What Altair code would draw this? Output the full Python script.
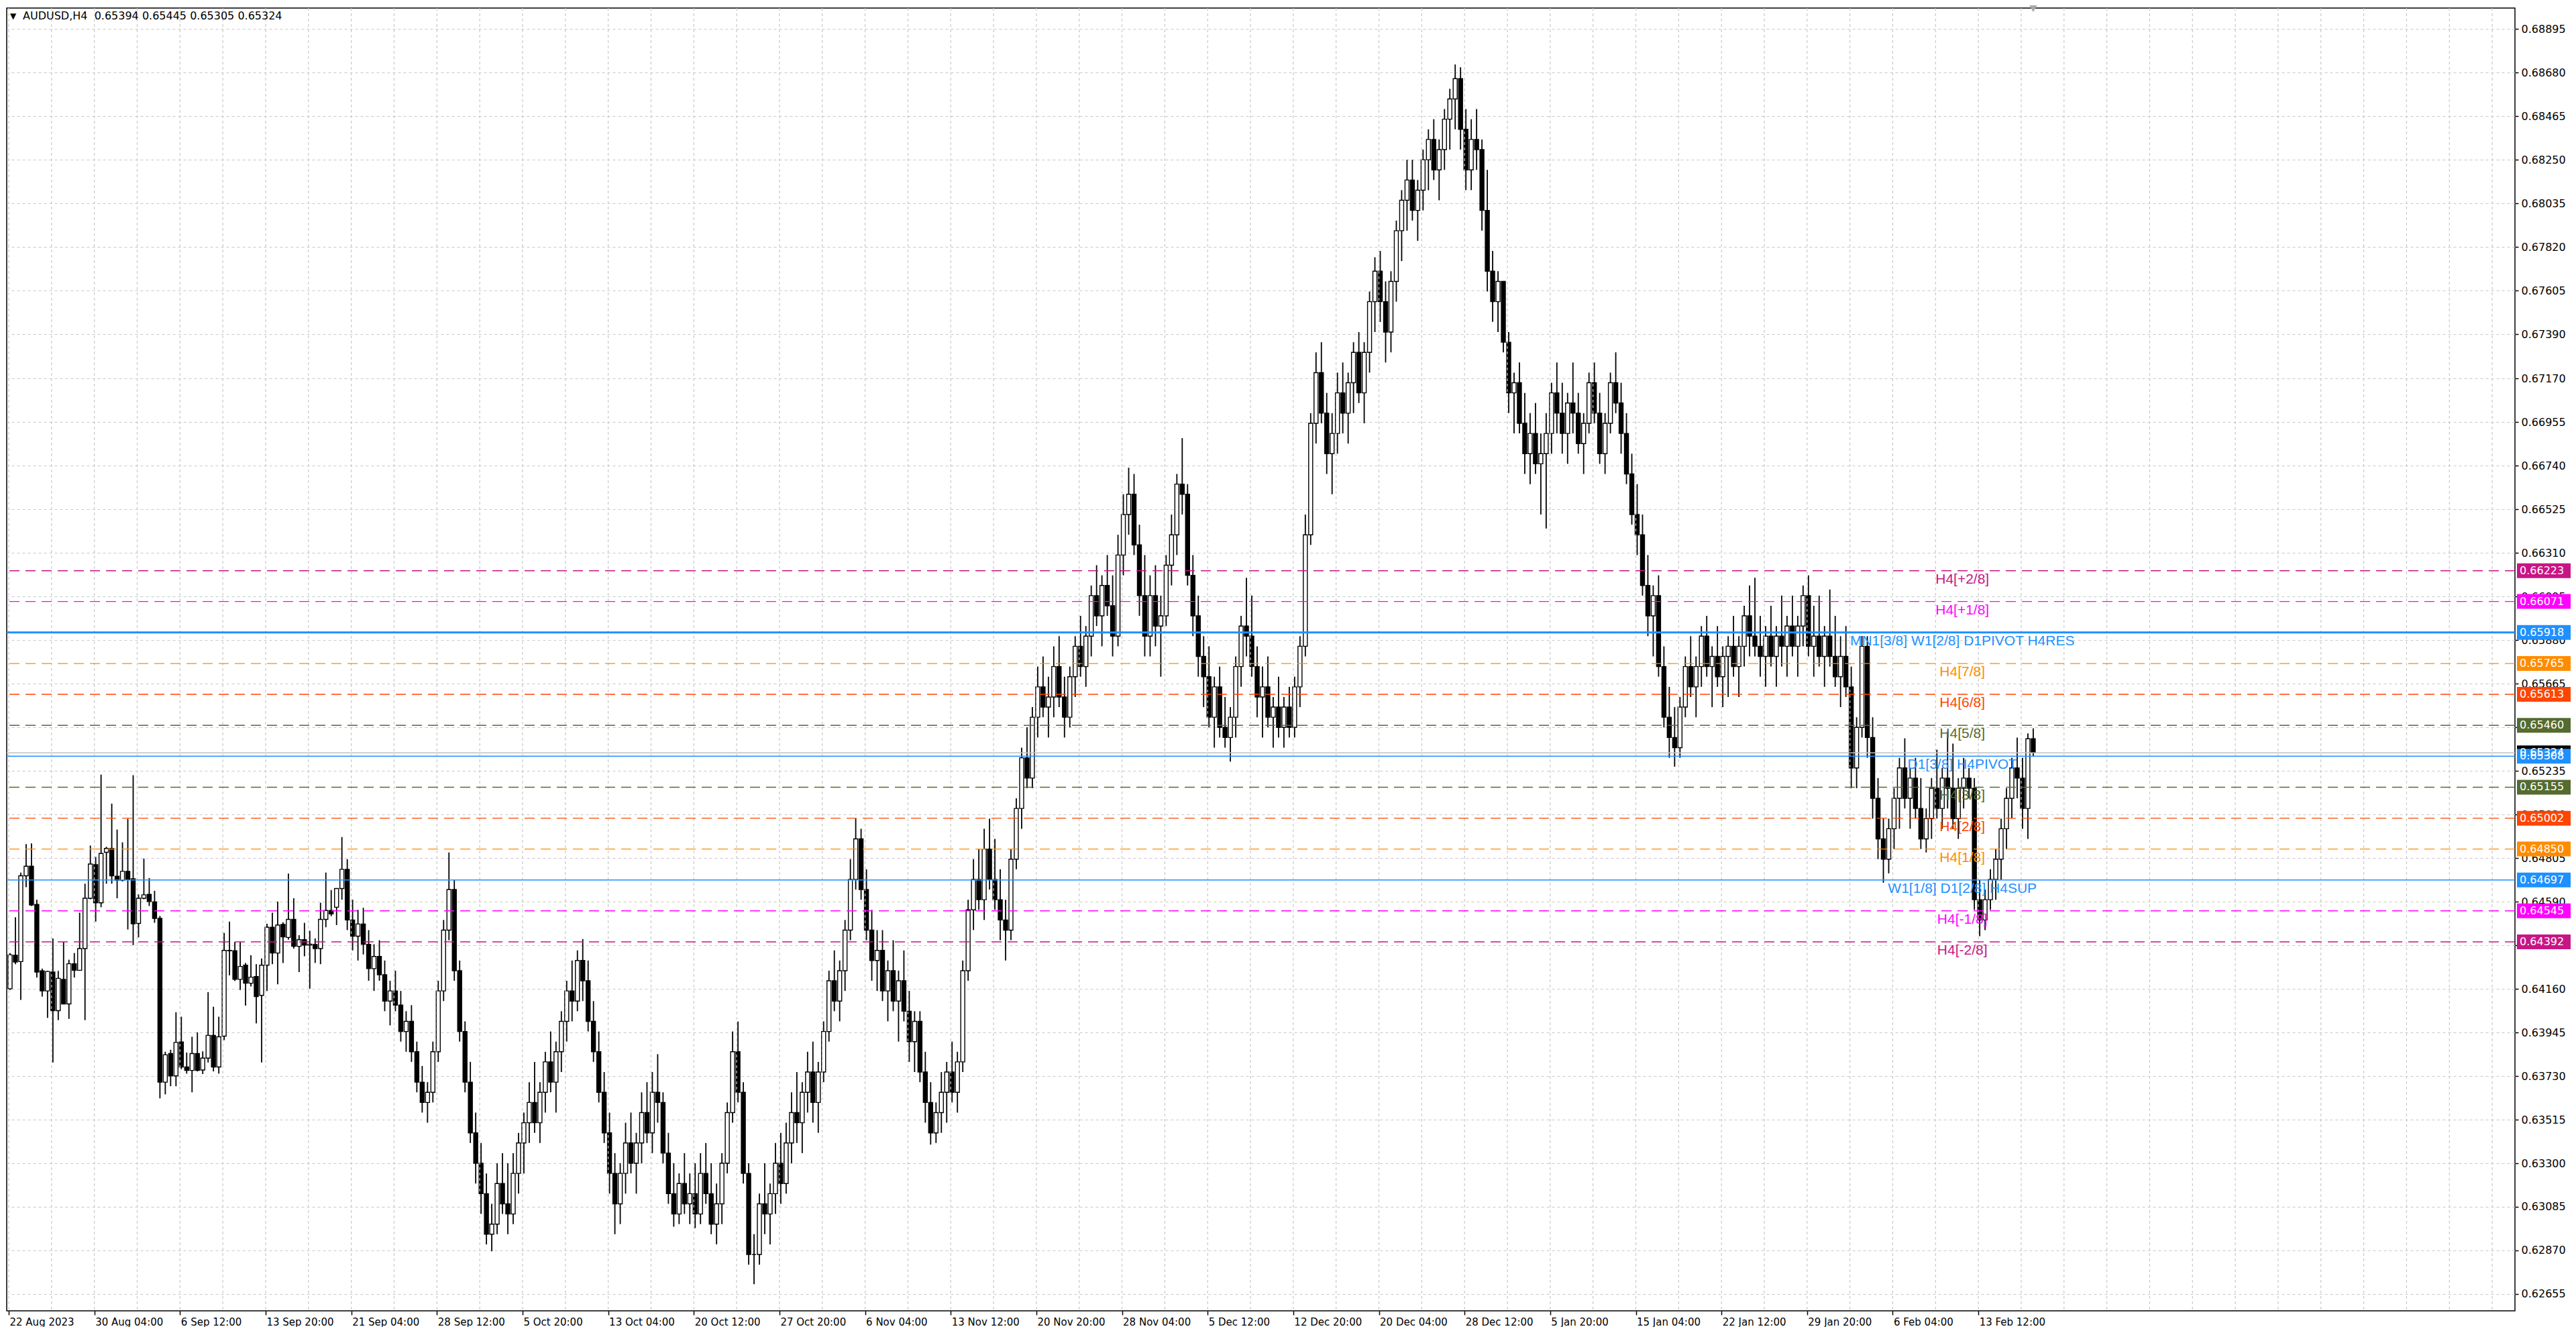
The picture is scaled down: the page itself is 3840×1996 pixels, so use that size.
import json
import altair as alt
import pandas as pd

SYMBOL = "AUDUSD"
TIMEFRAME = "H4"

# One drawn candle = two H4 bars (open, high, low, close)
OPEN = [
    0.64161, 0.64326, 0.64295, 0.64718, 0.64765, 0.64577, 0.64249, 0.64150, 0.64243, 0.64053,
    0.64207, 0.64086, 0.64284, 0.64252, 0.64359, 0.64607, 0.64773, 0.64585, 0.64834, 0.64853,
    0.64716, 0.64696, 0.64740, 0.64703, 0.64483, 0.64607, 0.64626, 0.64589, 0.64508, 0.63700,
    0.63841, 0.63731, 0.63898, 0.63775, 0.63758, 0.63841, 0.63760, 0.63819, 0.63931, 0.63775,
    0.63927, 0.64350, 0.64348, 0.64207, 0.64277, 0.64188, 0.64221, 0.64128, 0.64277, 0.64464,
    0.64337, 0.64478, 0.64414, 0.64503, 0.64370, 0.64403, 0.64376, 0.64379, 0.64359, 0.64503,
    0.64547, 0.64563,
    0.64655, 0.64750, 0.64500, 0.64420, 0.64480, 0.64380, 0.64260, 0.64320, 0.64230, 0.64100,
    0.64150, 0.64080, 0.63950, 0.64000, 0.63850, 0.63700, 0.63600, 0.63650, 0.63850, 0.64150,
    0.64450, 0.64650, 0.64250, 0.63950, 0.63700, 0.63450, 0.63300, 0.63150, 0.62950, 0.63000,
    0.63200, 0.63100, 0.63050, 0.63250, 0.63400, 0.63500, 0.63600, 0.63500, 0.63650, 0.63800,
    0.63700, 0.63850, 0.64000, 0.64150, 0.64100, 0.64300, 0.64200, 0.64000, 0.63850, 0.63650,
    0.63450, 0.63250, 0.63100, 0.63250, 0.63400, 0.63300, 0.63400, 0.63550, 0.63450, 0.63650,
    0.63600, 0.63350, 0.63150, 0.63050, 0.63200, 0.63100, 0.63150, 0.63050, 0.63250, 0.63150,
    0.63000, 0.63100, 0.63300, 0.63550, 0.63850, 0.63650, 0.63250, 0.62850, 0.62850, 0.63100,
    0.63050, 0.63150, 0.63300, 0.63200, 0.63400, 0.63550, 0.63500, 0.63650, 0.63750, 0.63600,
    0.63750, 0.63950, 0.64200, 0.64100, 0.64250, 0.64450, 0.64700, 0.64900, 0.64650, 0.64450,
    0.64300, 0.64350, 0.64150, 0.64250, 0.64100, 0.64200, 0.64050, 0.63900, 0.64000, 0.63750,
    0.63600, 0.63450, 0.63550, 0.63650, 0.63750, 0.63650, 0.63800, 0.64250, 0.64550, 0.64700,
    0.64600, 0.64850, 0.64700, 0.64600, 0.64500, 0.64450, 0.64800, 0.65050, 0.65300, 0.65200,
    0.65500, 0.65650, 0.65550, 0.65600, 0.65750, 0.65600, 0.65500, 0.65700, 0.65850, 0.65750,
    0.65900, 0.66100, 0.66000, 0.66150, 0.66050, 0.65900, 0.66300, 0.66500, 0.66600, 0.66350,
    0.66100, 0.65900, 0.66100, 0.65950, 0.66000, 0.66250, 0.66400, 0.66650, 0.66600, 0.66200,
    0.66000, 0.65800, 0.65700, 0.65500, 0.65650, 0.65450, 0.65400, 0.65500, 0.65750, 0.65950,
    0.65900, 0.65750, 0.65600, 0.65650, 0.65500, 0.65550, 0.65450, 0.65550, 0.65450, 0.65650,
    0.65850, 0.66400, 0.66950, 0.67200, 0.67000, 0.66800, 0.66900, 0.67100, 0.67000, 0.67150,
    0.67300, 0.67100, 0.67300, 0.67550, 0.67700, 0.67550, 0.67400, 0.67650, 0.67900, 0.68050,
    0.68150, 0.68000, 0.68100, 0.68250, 0.68350, 0.68200, 0.68300, 0.68450, 0.68550, 0.68650,
    0.68400, 0.68200, 0.68350, 0.68300, 0.68000, 0.67700, 0.67550, 0.67650, 0.67350, 0.67100,
    0.67150, 0.66950, 0.66800, 0.66900, 0.66750, 0.66800, 0.66900, 0.67100, 0.67000, 0.66900,
    0.67050, 0.67000, 0.66850, 0.66950, 0.67150, 0.67000, 0.66800, 0.66950, 0.67150, 0.67050,
    0.66900, 0.66700, 0.66500, 0.66400, 0.66150, 0.66000, 0.66100, 0.65750, 0.65500, 0.65400,
    0.65350, 0.65550, 0.65750, 0.65650, 0.65750, 0.65900, 0.65750, 0.65800, 0.65700, 0.65800,
    0.65850, 0.65750, 0.65850, 0.66000, 0.65900, 0.65850, 0.65800, 0.65900, 0.65800, 0.65900,
    0.65850, 0.65950, 0.65850, 0.65950, 0.66100, 0.65850, 0.65900, 0.65800, 0.65900, 0.65800,
    0.65700, 0.65800, 0.65650, 0.65250, 0.65450, 0.65850, 0.65400, 0.65100, 0.64900, 0.64800,
    0.64950, 0.65100, 0.65250, 0.65100, 0.65200, 0.65050, 0.64900, 0.65000, 0.65150, 0.65050,
    0.65200, 0.65150, 0.65000, 0.65150, 0.65200, 0.65150, 0.64600, 0.64500, 0.64600, 0.64700,
    0.64800, 0.64950, 0.65100, 0.65250, 0.65200, 0.65050, 0.65394,
]
HIGH = [
    0.64337, 0.64514, 0.64734, 0.64874, 0.64878, 0.64600, 0.64260, 0.64249, 0.64409, 0.64249,
    0.64392, 0.64304, 0.64337, 0.64536, 0.64679, 0.64867, 0.64811, 0.65217, 0.64861, 0.65074,
    0.64946, 0.64883, 0.64999, 0.65214, 0.64626, 0.64803, 0.64707, 0.64644, 0.64520, 0.63850,
    0.63860, 0.64045, 0.64023, 0.63846, 0.63924, 0.63946, 0.63852, 0.64144, 0.64072, 0.64023,
    0.64436, 0.64492, 0.64392, 0.64392, 0.64288, 0.64326, 0.64282, 0.64310, 0.64481, 0.64536,
    0.64591, 0.64489, 0.64729, 0.64607, 0.64425, 0.64486, 0.64447, 0.64409, 0.64585, 0.64734,
    0.64648, 0.64657,
    0.64909, 0.64800, 0.64600, 0.64550, 0.64560, 0.64450, 0.64380, 0.64400, 0.64300, 0.64200,
    0.64250, 0.64150, 0.64050, 0.64080, 0.63900, 0.63780, 0.63700, 0.63900, 0.64200, 0.64500,
    0.64833, 0.64700, 0.64300, 0.64000, 0.63800, 0.63550, 0.63400, 0.63250, 0.63100, 0.63300,
    0.63350, 0.63300, 0.63350, 0.63450, 0.63550, 0.63700, 0.63800, 0.63700, 0.63850, 0.63950,
    0.63900, 0.64050, 0.64200, 0.64300, 0.64350, 0.64406, 0.64300, 0.64100, 0.63950, 0.63750,
    0.63550, 0.63350, 0.63300, 0.63500, 0.63550, 0.63450, 0.63650, 0.63700, 0.63750, 0.63838,
    0.63650, 0.63450, 0.63300, 0.63250, 0.63350, 0.63250, 0.63300, 0.63350, 0.63400, 0.63300,
    0.63200, 0.63350, 0.63600, 0.63950, 0.63999, 0.63700, 0.63300, 0.62950, 0.63150, 0.63300,
    0.63200, 0.63400, 0.63450, 0.63500, 0.63650, 0.63750, 0.63700, 0.63850, 0.63900, 0.63800,
    0.64000, 0.64250, 0.64350, 0.64300, 0.64500, 0.64800, 0.65000, 0.64950, 0.64750, 0.64550,
    0.64450, 0.64450, 0.64300, 0.64400, 0.64250, 0.64350, 0.64150, 0.64050, 0.64050, 0.63850,
    0.63700, 0.63600, 0.63750, 0.63800, 0.63900, 0.63850, 0.64300, 0.64600, 0.64800, 0.64850,
    0.64950, 0.65000, 0.64900, 0.64750, 0.64600, 0.64850, 0.65100, 0.65350, 0.65450, 0.65550,
    0.65750, 0.65800, 0.65700, 0.65850, 0.65900, 0.65700, 0.65750, 0.65900, 0.66000, 0.65950,
    0.66150, 0.66250, 0.66200, 0.66300, 0.66200, 0.66400, 0.66600, 0.66731, 0.66700, 0.66450,
    0.66300, 0.66200, 0.66250, 0.66100, 0.66300, 0.66500, 0.66700, 0.66877, 0.66650, 0.66300,
    0.66100, 0.65900, 0.65850, 0.65700, 0.65750, 0.65600, 0.65550, 0.65800, 0.66000, 0.66188,
    0.66100, 0.65850, 0.65750, 0.65800, 0.65600, 0.65700, 0.65600, 0.65650, 0.65700, 0.65900,
    0.66500, 0.67000, 0.67300, 0.67350, 0.67100, 0.67000, 0.67200, 0.67250, 0.67200, 0.67350,
    0.67400, 0.67350, 0.67600, 0.67769, 0.67800, 0.67650, 0.67700, 0.67950, 0.68100, 0.68250,
    0.68250, 0.68150, 0.68300, 0.68400, 0.68450, 0.68350, 0.68500, 0.68600, 0.68720, 0.68706,
    0.68500, 0.68450, 0.68500, 0.68350, 0.68200, 0.67800, 0.67700, 0.67650, 0.67400, 0.67200,
    0.67250, 0.67100, 0.67000, 0.67050, 0.66900, 0.67000, 0.67150, 0.67250, 0.67150, 0.67100,
    0.67250, 0.67100, 0.67000, 0.67200, 0.67250, 0.67100, 0.67000, 0.67200, 0.67300, 0.67150,
    0.67000, 0.66800, 0.66650, 0.66500, 0.66300, 0.66150, 0.66200, 0.65850, 0.65650, 0.65550,
    0.65600, 0.65800, 0.65900, 0.65800, 0.65950, 0.66000, 0.65850, 0.65950, 0.65850, 0.65900,
    0.66000, 0.65900, 0.66050, 0.66150, 0.66188, 0.66000, 0.65950, 0.66050, 0.65950, 0.66100,
    0.66000, 0.66100, 0.66000, 0.66150, 0.66200, 0.66050, 0.66100, 0.65950, 0.66130, 0.66000,
    0.65900, 0.65950, 0.65750, 0.65500, 0.65901, 0.65900, 0.65500, 0.65200, 0.65000, 0.65000,
    0.65150, 0.65300, 0.65396, 0.65250, 0.65300, 0.65200, 0.65050, 0.65200, 0.65340, 0.65250,
    0.65429, 0.65370, 0.65200, 0.65300, 0.65250, 0.65200, 0.64700, 0.64650, 0.64750, 0.64850,
    0.65000, 0.65150, 0.65300, 0.65400, 0.65300, 0.65420, 0.65445,
]
LOW = [
    0.64155, 0.64282, 0.64106, 0.64662, 0.64569, 0.64216, 0.64122, 0.64017, 0.63797, 0.64006,
    0.64084, 0.64012, 0.64216, 0.64249, 0.64006, 0.64602, 0.64492, 0.64563, 0.64679, 0.64679,
    0.64607, 0.64690, 0.64453, 0.64376, 0.64414, 0.64602, 0.64569, 0.64486, 0.63620, 0.63640,
    0.63680, 0.63680, 0.63764, 0.63742, 0.63650, 0.63753, 0.63740, 0.63797, 0.63753, 0.63742,
    0.63907, 0.64227, 0.64199, 0.64155, 0.64078, 0.64172, 0.63990, 0.63797, 0.64150, 0.64282,
    0.64183, 0.64288, 0.64403, 0.64359, 0.64243, 0.64321, 0.64161, 0.64288, 0.64282, 0.64464,
    0.64519, 0.64475,
    0.64600, 0.64450, 0.64350, 0.64300, 0.64330, 0.64200, 0.64150, 0.64200, 0.64050, 0.63980,
    0.64050, 0.63900, 0.63850, 0.63800, 0.63650, 0.63550, 0.63500, 0.63600, 0.63800, 0.64100,
    0.64400, 0.64200, 0.63900, 0.63650, 0.63400, 0.63200, 0.63050, 0.62900, 0.62866, 0.62950,
    0.63050, 0.62950, 0.63000, 0.63150, 0.63250, 0.63400, 0.63450, 0.63400, 0.63550, 0.63650,
    0.63550, 0.63750, 0.63900, 0.64000, 0.64050, 0.64100, 0.63950, 0.63800, 0.63600, 0.63400,
    0.63150, 0.62950, 0.63000, 0.63150, 0.63250, 0.63150, 0.63300, 0.63400, 0.63350, 0.63500,
    0.63300, 0.63100, 0.62987, 0.63000, 0.63050, 0.63000, 0.62980, 0.63000, 0.63100, 0.62950,
    0.62900, 0.63000, 0.63250, 0.63500, 0.63600, 0.63200, 0.62800, 0.62704, 0.62800, 0.62950,
    0.62900, 0.63050, 0.63100, 0.63150, 0.63300, 0.63400, 0.63350, 0.63550, 0.63500, 0.63450,
    0.63700, 0.63900, 0.64050, 0.64000, 0.64150, 0.64400, 0.64650, 0.64600, 0.64400, 0.64200,
    0.64150, 0.64100, 0.64000, 0.64050, 0.63900, 0.64000, 0.63800, 0.63750, 0.63700, 0.63500,
    0.63392, 0.63400, 0.63450, 0.63500, 0.63600, 0.63550, 0.63750, 0.64200, 0.64450, 0.64550,
    0.64500, 0.64650, 0.64550, 0.64400, 0.64300, 0.64400, 0.64750, 0.64950, 0.65150, 0.65150,
    0.65400, 0.65500, 0.65400, 0.65500, 0.65550, 0.65400, 0.65450, 0.65600, 0.65700, 0.65650,
    0.65800, 0.65950, 0.65850, 0.66000, 0.65800, 0.65850, 0.66200, 0.66400, 0.66300, 0.66000,
    0.65800, 0.65800, 0.65850, 0.65700, 0.65950, 0.66150, 0.66300, 0.66500, 0.66150, 0.65900,
    0.65700, 0.65550, 0.65450, 0.65350, 0.65400, 0.65350, 0.65281, 0.65400, 0.65650, 0.65800,
    0.65700, 0.65500, 0.65400, 0.65450, 0.65350, 0.65400, 0.65350, 0.65400, 0.65400, 0.65550,
    0.65800, 0.66350, 0.66850, 0.66950, 0.66700, 0.66600, 0.66800, 0.66900, 0.66850, 0.67000,
    0.67050, 0.66950, 0.67200, 0.67400, 0.67450, 0.67250, 0.67300, 0.67550, 0.67750, 0.67900,
    0.67950, 0.67850, 0.68000, 0.68100, 0.68150, 0.68050, 0.68200, 0.68300, 0.68400, 0.68300,
    0.68100, 0.68100, 0.68200, 0.67900, 0.67600, 0.67450, 0.67400, 0.67300, 0.67000, 0.66900,
    0.66900, 0.66700, 0.66650, 0.66700, 0.66500, 0.66431, 0.66800, 0.66900, 0.66800, 0.66750,
    0.66900, 0.66800, 0.66700, 0.66900, 0.66950, 0.66750, 0.66700, 0.66900, 0.67000, 0.66800,
    0.66650, 0.66450, 0.66300, 0.66100, 0.65900, 0.65800, 0.65700, 0.65450, 0.65300, 0.65256,
    0.65300, 0.65500, 0.65600, 0.65500, 0.65650, 0.65700, 0.65550, 0.65650, 0.65550, 0.65600,
    0.65700, 0.65600, 0.65750, 0.65800, 0.65800, 0.65700, 0.65650, 0.65750, 0.65650, 0.65750,
    0.65700, 0.65800, 0.65700, 0.65850, 0.65800, 0.65700, 0.65750, 0.65650, 0.65750, 0.65650,
    0.65550, 0.65600, 0.65150, 0.65150, 0.65400, 0.65300, 0.65000, 0.64800, 0.64684, 0.64730,
    0.64850, 0.64950, 0.65050, 0.64950, 0.65000, 0.64850, 0.64833, 0.64900, 0.65000, 0.64950,
    0.65050, 0.64950, 0.64900, 0.65050, 0.65100, 0.64550, 0.64420, 0.64450, 0.64550, 0.64600,
    0.64700, 0.64850, 0.65000, 0.65100, 0.64950, 0.64900, 0.65305,
]
CLOSE = [
    0.64328, 0.64293, 0.64718, 0.64765, 0.64574, 0.64243, 0.64150, 0.64246, 0.64053, 0.64212,
    0.64086, 0.64284, 0.64252, 0.64359, 0.64607, 0.64776, 0.64585, 0.64828, 0.64853, 0.64718,
    0.64696, 0.64740, 0.64701, 0.64481, 0.64607, 0.64624, 0.64591, 0.64508, 0.63700, 0.63835,
    0.63731, 0.63896, 0.63775, 0.63758, 0.63841, 0.63758, 0.63819, 0.63931, 0.63775, 0.63924,
    0.64350, 0.64348, 0.64207, 0.64271, 0.64188, 0.64218, 0.64122, 0.64277, 0.64464, 0.64337,
    0.64475, 0.64417, 0.64503, 0.64370, 0.64403, 0.64376, 0.64381, 0.64359, 0.64503, 0.64547,
    0.64530, 0.64655,
    0.64750, 0.64500, 0.64420, 0.64480, 0.64380, 0.64260, 0.64320, 0.64230, 0.64100, 0.64150,
    0.64080, 0.63950, 0.64000, 0.63850, 0.63700, 0.63600, 0.63650, 0.63850, 0.64150, 0.64450,
    0.64650, 0.64250, 0.63950, 0.63700, 0.63450, 0.63300, 0.63150, 0.62950, 0.63000, 0.63200,
    0.63100, 0.63050, 0.63250, 0.63400, 0.63500, 0.63600, 0.63500, 0.63650, 0.63800, 0.63700,
    0.63850, 0.64000, 0.64150, 0.64100, 0.64300, 0.64200, 0.64000, 0.63850, 0.63650, 0.63450,
    0.63250, 0.63100, 0.63250, 0.63400, 0.63300, 0.63400, 0.63550, 0.63450, 0.63650, 0.63600,
    0.63350, 0.63150, 0.63050, 0.63200, 0.63100, 0.63150, 0.63050, 0.63250, 0.63150, 0.63000,
    0.63100, 0.63300, 0.63550, 0.63850, 0.63650, 0.63250, 0.62850, 0.62850, 0.63100, 0.63050,
    0.63150, 0.63300, 0.63200, 0.63400, 0.63550, 0.63500, 0.63650, 0.63750, 0.63600, 0.63750,
    0.63950, 0.64200, 0.64100, 0.64250, 0.64450, 0.64700, 0.64900, 0.64650, 0.64450, 0.64300,
    0.64350, 0.64150, 0.64250, 0.64100, 0.64200, 0.64050, 0.63900, 0.64000, 0.63750, 0.63600,
    0.63450, 0.63550, 0.63650, 0.63750, 0.63650, 0.63800, 0.64250, 0.64550, 0.64700, 0.64600,
    0.64850, 0.64700, 0.64600, 0.64500, 0.64450, 0.64800, 0.65050, 0.65300, 0.65200, 0.65500,
    0.65650, 0.65550, 0.65600, 0.65750, 0.65600, 0.65500, 0.65700, 0.65850, 0.65750, 0.65900,
    0.66100, 0.66000, 0.66150, 0.66050, 0.65900, 0.66300, 0.66500, 0.66600, 0.66350, 0.66100,
    0.65900, 0.66100, 0.65950, 0.66000, 0.66250, 0.66400, 0.66650, 0.66600, 0.66200, 0.66000,
    0.65800, 0.65700, 0.65500, 0.65650, 0.65450, 0.65400, 0.65500, 0.65750, 0.65950, 0.65900,
    0.65750, 0.65600, 0.65650, 0.65500, 0.65550, 0.65450, 0.65550, 0.65450, 0.65650, 0.65850,
    0.66400, 0.66950, 0.67200, 0.67000, 0.66800, 0.66900, 0.67100, 0.67000, 0.67150, 0.67300,
    0.67100, 0.67300, 0.67550, 0.67700, 0.67550, 0.67400, 0.67650, 0.67900, 0.68050, 0.68150,
    0.68000, 0.68100, 0.68250, 0.68350, 0.68200, 0.68300, 0.68450, 0.68550, 0.68650, 0.68400,
    0.68200, 0.68350, 0.68300, 0.68000, 0.67700, 0.67550, 0.67650, 0.67350, 0.67100, 0.67150,
    0.66950, 0.66800, 0.66900, 0.66750, 0.66800, 0.66900, 0.67100, 0.67000, 0.66900, 0.67050,
    0.67000, 0.66850, 0.66950, 0.67150, 0.67000, 0.66800, 0.66950, 0.67150, 0.67050, 0.66900,
    0.66700, 0.66500, 0.66400, 0.66150, 0.66000, 0.66100, 0.65750, 0.65500, 0.65400, 0.65350,
    0.65550, 0.65750, 0.65650, 0.65750, 0.65900, 0.65750, 0.65800, 0.65700, 0.65800, 0.65850,
    0.65750, 0.65850, 0.66000, 0.65900, 0.65850, 0.65800, 0.65900, 0.65800, 0.65900, 0.65850,
    0.65950, 0.65850, 0.65950, 0.66100, 0.65850, 0.65900, 0.65800, 0.65900, 0.65800, 0.65700,
    0.65800, 0.65650, 0.65250, 0.65450, 0.65850, 0.65400, 0.65100, 0.64900, 0.64800, 0.64950,
    0.65100, 0.65250, 0.65100, 0.65200, 0.65050, 0.64900, 0.65000, 0.65150, 0.65050, 0.65200,
    0.65150, 0.65000, 0.65150, 0.65200, 0.65150, 0.64600, 0.64500, 0.64600, 0.64700, 0.64800,
    0.64950, 0.65100, 0.65250, 0.65200, 0.65050, 0.65394, 0.65324,
]

X_LABELS = [
    "22 Aug 2023", "30 Aug 04:00", "6 Sep 12:00", "13 Sep 20:00", "21 Sep 04:00",
    "28 Sep 12:00", "5 Oct 20:00", "13 Oct 04:00", "20 Oct 12:00", "27 Oct 20:00",
    "6 Nov 04:00", "13 Nov 12:00", "20 Nov 20:00", "28 Nov 04:00", "5 Dec 12:00",
    "12 Dec 20:00", "20 Dec 04:00", "28 Dec 12:00", "5 Jan 20:00", "15 Jan 04:00",
    "22 Jan 12:00", "29 Jan 20:00", "6 Feb 04:00", "13 Feb 12:00",
]
Y_TICKS = [
    0.68895, 0.68680, 0.68465, 0.68250, 0.68035, 0.67820, 0.67605, 0.67390, 0.67170, 0.66955,
    0.66740, 0.66525, 0.66310, 0.66095, 0.65880, 0.65665, 0.65450, 0.65235, 0.65020, 0.64805,
    0.64590, 0.64375, 0.64160, 0.63945, 0.63730, 0.63515, 0.63300, 0.63085, 0.62870, 0.62655,
]

LEVEL_PRICES = [0.66223, 0.66071, 0.65918, 0.65765, 0.65613, 0.65460, 0.65308,
                0.65155, 0.65002, 0.64850, 0.64697, 0.64545, 0.64392]
LEVEL_NAMES = ["H4[+2/8]", "H4[+1/8]", "MN1[3/8] W1[2/8] D1PIVOT H4RES", "H4[7/8]",
               "H4[6/8]", "H4[5/8]", "D1[3/8] H4PIVOT", "H4[3/8]", "H4[2/8]", "H4[1/8]",
               "W1[1/8] D1[2/8] H4SUP", "H4[-1/8]", "H4[-2/8]"]
LEVEL_COLORS = ["#C71585", "#FF00FF", "#1E90FF", "#FF8C00", "#FF4500", "#556B2F",
                "#1E90FF", "#556B2F", "#FF4500", "#FF8C00", "#1E90FF", "#FF00FF", "#C71585"]
LEVEL_KIND = ["h4", "h4", "pivot", "h4", "h4", "h4", "pivot", "h4", "h4", "h4",
              "pivot", "h4", "h4"]
THICK_LEVEL = 0.65918
BID_PRICE = 0.65324

assert len(OPEN) == len(HIGH) == len(LOW) == len(CLOSE), (len(OPEN), len(HIGH), len(LOW), len(CLOSE))

# ---- layout ----
BARS_PER_CANDLE = 2
BARS_PER_LABEL = 32
BARS_PER_GRID = 16
LABEL_BAR = 730
W, H = 3739, 1942
X_DOMAIN = [0.5, 935.25]
Y_DOMAIN = [0.625721, 0.689982]

candles = pd.DataFrame({"open": OPEN, "high": HIGH, "low": LOW, "close": CLOSE})
candles["bar"] = [i * BARS_PER_CANDLE + 0.5 for i in range(len(candles))]

levels = pd.DataFrame({"price": LEVEL_PRICES, "name": LEVEL_NAMES,
                       "color": LEVEL_COLORS, "kind": LEVEL_KIND})
levels["lx"] = LABEL_BAR

boxes = pd.DataFrame({"price": [BID_PRICE] + LEVEL_PRICES,
                      "color": ["#000000"] + LEVEL_COLORS})
boxes["label"] = [f"{p:.5f}" for p in boxes["price"]]

grid_df = pd.DataFrame({"gx": list(range(0, int(X_DOMAIN[1]) + 1, BARS_PER_GRID))})
bid_df = pd.DataFrame({"price": [BID_PRICE]})
last_df = candles.tail(1)

xs = alt.Scale(domain=X_DOMAIN, nice=False, zero=False)
ys = alt.Scale(domain=Y_DOMAIN, nice=False, zero=False)

label_expr = json.dumps(X_LABELS) + f"[round(datum.value / {BARS_PER_LABEL})]"
X_AXIS = dict(
    orient="bottom",
    values=[i * BARS_PER_LABEL for i in range(len(X_LABELS))],
    labelExpr=label_expr, labelAlign="left", labelBaseline="top",
    labelFont="DejaVu Sans", labelFontSize=15, labelColor="black",
    labelPadding=3, labelOffset=1, tickSize=6, tickColor="black", tickWidth=1.5,
    domain=False, grid=False, title="", labelOverlap=False, labelFlush=False,
    labelBound=False,
)
Y_AXIS = dict(
    orient="right", values=Y_TICKS, format=".5f",
    labelFont="DejaVu Sans", labelFontSize=16, labelColor="black",
    labelPadding=4, tickSize=5, tickColor="black", tickWidth=1.5,
    domain=False, grid=True, gridColor="#c8c8c8", gridDash=[4, 4], gridWidth=1.2,
    title="", labelOverlap=False, labelBound=False,
)


def xq(field):
    return alt.X(field, type="quantitative", scale=xs, axis=alt.Axis(**X_AXIS))


def yq(field):
    return alt.Y(field, type="quantitative", scale=ys, axis=alt.Axis(**Y_AXIS))


wicks = alt.Chart(candles).mark_rule(color="black", strokeWidth=1.8).encode(
    x=xq("bar"), y=yq("low"), y2="high:Q",
)
bodies = alt.Chart(candles).mark_bar(size=6, stroke="black", strokeWidth=1.4).encode(
    x=xq("bar"), y=yq("open"), y2="close:Q",
    fill=alt.condition("datum.close >= datum.open", alt.value("white"), alt.value("black")),
)

grid = alt.Chart(grid_df).mark_rule(color="#c8c8c8", strokeDash=[4, 4], strokeWidth=1.2).encode(
    x=xq("gx")
)

bid_line = alt.Chart(bid_df).mark_rule(color="#c0c0c0", strokeWidth=1.5).encode(y=yq("price"))

dashed = alt.Chart(levels).transform_filter("datum.kind == 'h4'").mark_rule(
    strokeDash=[15, 9], strokeWidth=1.4
).encode(y=yq("price"), color=alt.Color("color:N", scale=None))
solid = alt.Chart(levels).transform_filter("datum.kind == 'pivot'").mark_rule().encode(
    y=yq("price"),
    color=alt.Color("color:N", scale=None),
    strokeWidth=alt.condition(f"datum.price == {THICK_LEVEL}", alt.value(3), alt.value(1.5)),
)

level_text = alt.Chart(levels).mark_text(
    font="Liberation Sans", fontSize=21, align="center", baseline="middle", dy=13
).encode(
    x=xq("lx"), y=yq("price"), text="name:N", color=alt.Color("color:N", scale=None),
)

box_marks = alt.Chart(boxes).mark_point(
    shape="M-1,-0.275L1,-0.275L1,0.275L-1,0.275Z", size=6400, filled=True,
    opacity=1, strokeWidth=0
).encode(x=alt.value(W + 43), y=yq("price"), color=alt.Color("color:N", scale=None))
box_text = alt.Chart(boxes).mark_text(
    align="left", baseline="middle", font="DejaVu Sans", fontSize=16, color="white"
).encode(x=alt.value(W + 7), y=yq("price"), text="label:N")

title_text = (f"{SYMBOL},{TIMEFRAME}\u00a0\u00a0{OPEN[-1]:.5f} {HIGH[-1]:.5f} "
              f"{LOW[-1]:.5f} {CLOSE[-1]:.5f}")
title = alt.Chart(bid_df).mark_text(
    align="left", baseline="middle", font="DejaVu Sans", fontSize=16, color="black"
).encode(x=alt.value(24), y=alt.value(12), text=alt.value(title_text))
arrow = alt.Chart(bid_df).mark_text(
    align="left", baseline="middle", font="DejaVu Sans", fontSize=12, color="black"
).encode(x=alt.value(5), y=alt.value(12), text=alt.value("\u25BC"))

shift_marker = alt.Chart(last_df).mark_point(
    shape="triangle-down", filled=True, size=130, color="#a8a8a8", opacity=1
).encode(x=xq("bar"), y=alt.value(1))

chart = alt.layer(
    wicks, bodies, grid, bid_line, dashed, solid, level_text,
    box_marks, box_text, title, arrow, shift_marker,
).properties(
    width=W, height=H, padding=0, background="white"
).configure_view(stroke="black", strokeWidth=1.5)

chart.save("out.html", embed_options={"renderer": "svg", "actions": False})
